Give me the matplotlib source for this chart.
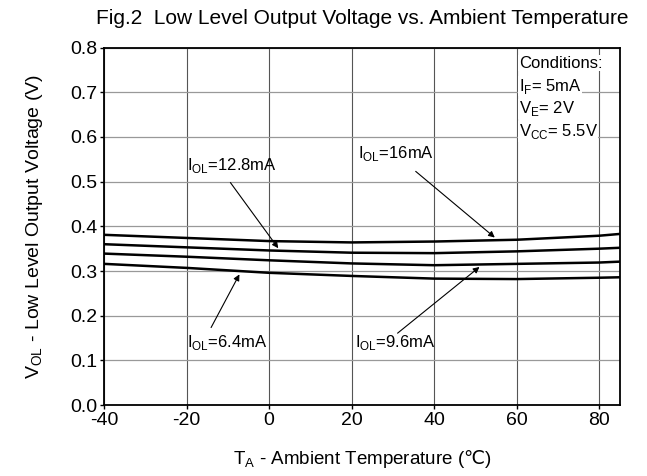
import numpy as np
import matplotlib
matplotlib.use("Agg")
import matplotlib.pyplot as plt

plt.rcParams['font.family'] = ['Liberation Sans', 'DejaVu Sans']
plt.rcParams['mathtext.fontset'] = 'custom'
plt.rcParams['mathtext.rm'] = 'Liberation Sans'
plt.rcParams['mathtext.sf'] = 'Noto Sans CJK SC'
plt.rcParams['axes.unicode_minus'] = False

# temperatures (deg C)
temp = [-40, -20, 0, 20, 40, 60, 80, 85]
v_16 = [0.381, 0.374, 0.367, 0.364, 0.366, 0.370, 0.379, 0.383]
v_12_8 = [0.360, 0.353, 0.346, 0.341, 0.340, 0.344, 0.350, 0.352]
v_9_6 = [0.339, 0.332, 0.324, 0.317, 0.313, 0.316, 0.319, 0.321]
v_6_4 = [0.316, 0.307, 0.296, 0.289, 0.283, 0.282, 0.285, 0.286]

x_ticks = [-40, -20, 0, 20, 40, 60, 80]
y_ticks = [0.0, 0.1, 0.2, 0.3, 0.4, 0.5, 0.6, 0.7, 0.8]

fig = plt.figure(figsize=(6.47, 4.76), dpi=100)
ax = fig.add_axes([0.161, 0.149, 0.797, 0.751])

for v in [v_16, v_12_8, v_9_6, v_6_4]:
    ax.plot(temp, v, c="black", lw=1.8)

ax.set_xlim(-40, 85)
ax.set_ylim(0, 0.8)
ax.set_xticks(x_ticks)
ax.set_yticks(y_ticks)
ax.set_yticklabels(["%.1f" % t for t in y_ticks])
ax.tick_params(labelsize=14, direction="out", length=3, width=1, pad=2)
for t in x_ticks:
    ax.axvline(t, c="#555555", lw=0.8, zorder=0)
for t in y_ticks:
    ax.axhline(t, c="#999999", lw=0.9, zorder=0)
for s in ax.spines.values():
    s.set_linewidth(1.3)

arrow = dict(arrowstyle="-|>", color="black", lw=0.8, mutation_scale=9)
# (label, text x, text y, arrow start, arrow tip)
notes = [
    (r"I$_{\mathrm{OL}}$=16mA", 21.5, 0.563, (35.0, 0.527), (55.2, 0.371)),
    (r"I$_{\mathrm{OL}}$=12.8mA", -19.8, 0.536, (-9.8, 0.503), (2.6, 0.346)),
    (r"I$_{\mathrm{OL}}$=9.6mA", 20.7, 0.139, (30.6, 0.157), (51.5, 0.313)),
    (r"I$_{\mathrm{OL}}$=6.4mA", -20.0, 0.139, (-14.4, 0.168), (-6.9, 0.298)),
]
for label, tx, ty, start, tip in notes:
    ax.text(tx, ty, label, fontsize=12, ha="left", va="center")
    ax.annotate("", xy=tip, xytext=start, arrowprops=arrow)

cond = ["Conditions:", r"I$_{\mathrm{F}}$= 5mA", r"V$_{\mathrm{E}}$= 2V",
        r"V$_{\mathrm{CC}}$= 5.5V"]
for i, line in enumerate(cond):
    ax.text(60.5, 0.765 - i * 0.051, line, fontsize=12, ha="left", va="center",
            bbox=dict(facecolor="white", edgecolor="none", pad=0.5))

ax.set_xlabel(r"T$_{\mathrm{A}}$ - Ambient Temperature ($\mathsf{℃}$)", fontsize=13.5, labelpad=14)
ax.set_ylabel(r"V$_{\mathrm{OL}}$ - Low Level Output Voltage (V)", fontsize=14, labelpad=18)
fig.text(0.56, 0.962, "Fig.2  Low Level Output Voltage vs. Ambient Temperature",
         fontsize=15, ha="center", va="center")

fig.savefig("out.png", dpi=100)
